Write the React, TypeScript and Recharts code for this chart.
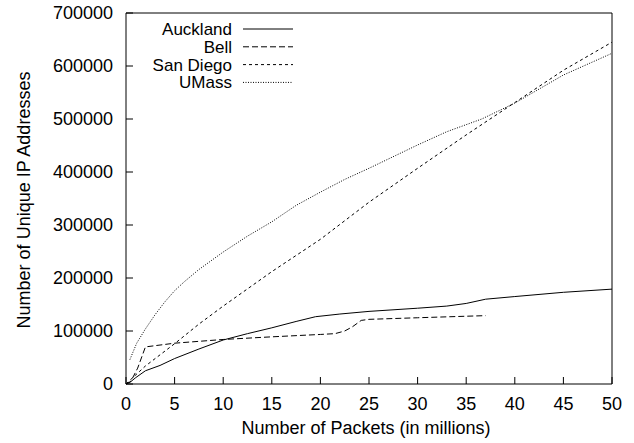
import React from "react";
import { LineChart, Line, XAxis, YAxis, Legend, Label } from "recharts";

const xTicks = [0, 5, 10, 15, 20, 25, 30, 35, 40, 45, 50];
const yTicks = [0, 100000, 200000, 300000, 400000, 500000, 600000, 700000];

const auckland = [
  { x: 0, y: 0 }, { x: 0.4, y: 3000 }, { x: 1, y: 12000 }, { x: 2, y: 25000 },
  { x: 3.5, y: 35000 }, { x: 5, y: 48000 }, { x: 7.5, y: 66000 }, { x: 10, y: 83000 },
  { x: 12.5, y: 95000 }, { x: 15, y: 106000 }, { x: 17.5, y: 118000 }, { x: 19.5, y: 127000 },
  { x: 22, y: 132000 }, { x: 25, y: 137000 }, { x: 30, y: 143000 }, { x: 33, y: 147000 },
  { x: 35, y: 152000 }, { x: 37, y: 160000 }, { x: 40, y: 165000 }, { x: 45, y: 173000 },
  { x: 50, y: 179000 },
];

const bell = [
  { x: 0, y: 0 }, { x: 0.5, y: 5000 }, { x: 1.2, y: 30000 }, { x: 2, y: 70000 },
  { x: 5, y: 77000 }, { x: 10, y: 84000 }, { x: 15, y: 89000 }, { x: 20, y: 93500 },
  { x: 21.5, y: 95000 }, { x: 22.5, y: 100000 }, { x: 23.3, y: 108000 }, { x: 24.2, y: 120000 },
  { x: 25, y: 122000 }, { x: 30, y: 125000 }, { x: 37, y: 129000 },
];

const sanDiego = [
  { x: 0, y: 0 }, { x: 0.4, y: 7000 }, { x: 2, y: 34000 }, { x: 5, y: 76000 },
  { x: 7.5, y: 113000 }, { x: 10, y: 147000 }, { x: 15, y: 212000 }, { x: 20, y: 273000 },
  { x: 25, y: 343000 }, { x: 30, y: 407000 }, { x: 35, y: 470000 }, { x: 40, y: 531000 },
  { x: 45, y: 592000 }, { x: 50, y: 645000 },
];

const umass = [
  { x: 0.4, y: 46000 }, { x: 1.1, y: 77000 }, { x: 2, y: 104000 }, { x: 3, y: 131000 },
  { x: 4, y: 155000 }, { x: 5, y: 176000 }, { x: 6, y: 193000 }, { x: 7.5, y: 216000 },
  { x: 10, y: 249000 }, { x: 12.5, y: 279000 }, { x: 15, y: 306000 }, { x: 17.5, y: 337000 },
  { x: 20, y: 362000 }, { x: 22.5, y: 386000 }, { x: 25, y: 407000 }, { x: 30, y: 451000 },
  { x: 33, y: 476000 }, { x: 36.6, y: 500000 }, { x: 40, y: 530000 }, { x: 45, y: 583000 },
  { x: 50, y: 624000 },
];

const seriesNames = ["Auckland", "Bell", "San Diego", "UMass"];
const seriesData = [auckland, bell, sanDiego, umass];
const seriesDash = ["", "6 3", "3 3", "1 1.5"];

const FONT = "'Liberation Sans', Arial, Helvetica, sans-serif";
const FS = 18;
const LEG_FS = 17;
const TICK = 7;
const XMARGIN = 13;
const YMARGIN = 13;

function BottomTick(props: any) {
  const { x, y, payload } = props;
  const axisY = y - XMARGIN;
  return (
    <g>
      <line x1={x} x2={x} y1={axisY} y2={axisY - TICK} stroke="#000" strokeWidth={1} />
      <text x={x} y={y} dy="0.71em" textAnchor="middle" fontFamily={FONT} fontSize={FS} fill="#000">
        {payload.value}
      </text>
    </g>
  );
}

function LeftTick(props: any) {
  const { x, y, payload } = props;
  const axisX = x + YMARGIN;
  return (
    <g>
      <line x1={axisX} x2={axisX + TICK} y1={y} y2={y} stroke="#000" strokeWidth={1} />
      <text x={x} y={y} dy="0.355em" textAnchor="end" fontFamily={FONT} fontSize={FS} fill="#000">
        {payload.value}
      </text>
    </g>
  );
}

function TopTick(props: any) {
  const { x, y } = props;
  return <line x1={x} x2={x} y1={y} y2={y + TICK} stroke="#000" strokeWidth={1} />;
}

function RightTick(props: any) {
  const { x, y } = props;
  return <line x1={x} x2={x - TICK} y1={y} y2={y} stroke="#000" strokeWidth={1} />;
}

function LegendBox() {
  return (
    <svg width={320} height={100} style={{ overflow: "visible" }}>
      {seriesNames.map((name, i) => {
        const base = 35 + i * 17.8;
        return (
          <g key={name}>
            <text x={232} y={base} textAnchor="end" fontFamily={FONT} fontSize={LEG_FS} fill="#000">
              {name}
            </text>
            <line x1={243} x2={293} y1={base - 6} y2={base - 6} stroke="#000" strokeWidth={1}
              strokeDasharray={seriesDash[i] || undefined} />
          </g>
        );
      })}
    </svg>
  );
}

export default function App() {
  return (
    <div style={{ position: "absolute", left: 0, top: 0, background: "#fff" }}>
      <LineChart width={634} height={443} margin={{ top: 12, right: 21, bottom: 0, left: 0 }}
        style={{ fontFamily: FONT }}>
        <XAxis dataKey="x" type="number" domain={[0, 50]} ticks={xTicks} interval={0}
          height={59} tickSize={0} tickMargin={XMARGIN}
          axisLine={{ stroke: "#000" }} tickLine={false} tick={<BottomTick />}>
          <Label content={(p: any) => {
            const vb = p.viewBox || {};
            return (
              <text x={vb.x + vb.width / 2 - 3} y={434} textAnchor="middle"
                fontFamily={FONT} fontSize={FS} fill="#000">
                Number of Packets (in millions)
              </text>
            );
          }} />
        </XAxis>
        <XAxis xAxisId="top" orientation="top" type="number" domain={[0, 50]} ticks={xTicks}
          interval={0} height={1} tickSize={0} tickMargin={0} tick={<TopTick />}
          axisLine={{ stroke: "#000" }} tickLine={false} />
        <YAxis type="number" domain={[0, 700000]} ticks={yTicks} interval={0} width={126}
          tickSize={0} tickMargin={YMARGIN}
          axisLine={{ stroke: "#000" }} tickLine={false} tick={<LeftTick />}>
          <Label content={(p: any) => {
            const vb = p.viewBox || {};
            const cx = 30;
            const cy = vb.y + vb.height / 2 + 1.5;
            return (
              <text x={cx} y={cy} textAnchor="middle" transform={`rotate(-90, ${cx}, ${cy})`}
                fontFamily={FONT} fontSize={FS} fill="#000">
                Number of Unique IP Addresses
              </text>
            );
          }} />
        </YAxis>
        <YAxis yAxisId="right" orientation="right" type="number" domain={[0, 700000]}
          ticks={yTicks} interval={0} width={1} tickSize={0} tickMargin={0} tick={<RightTick />}
          axisLine={{ stroke: "#000" }} tickLine={false} />
        <Legend layout="vertical" align="center" verticalAlign="middle"
          wrapperStyle={{ position: "absolute", left: 0, top: 0, width: 320, height: 100 }}
          content={() => <LegendBox />} />
        {seriesNames.map((name, i) => (
          <Line key={name} name={name} data={seriesData[i]} dataKey="y" type="linear"
            stroke="#000" strokeWidth={1} strokeDasharray={seriesDash[i] || undefined}
            dot={false} activeDot={false} isAnimationActive={false} />
        ))}
      </LineChart>
    </div>
  );
}
